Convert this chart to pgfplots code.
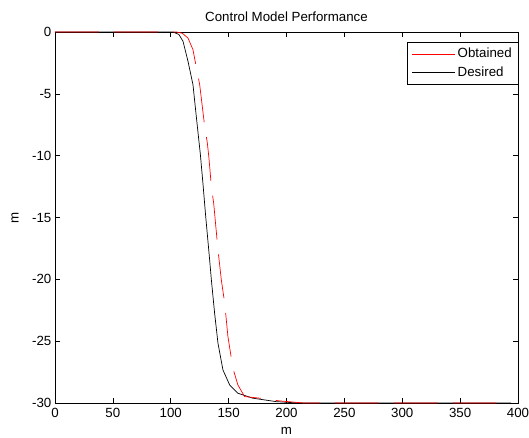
\documentclass[border=0pt]{standalone}
\usepackage{pgfplots}
\pgfplotsset{compat=1.18}
\usepackage{fontspec}
\setmainfont{Liberation Sans}
\begin{document}
\fontsize{13.3bp}{16bp}\selectfont
\begin{tikzpicture}
    % outer frame: 529 x 438, axis box 463 x 371 at (55,35) from lower left
    \useasboundingbox (-55bp,-35bp) rectangle (474bp,403bp);
    \begin{axis}[
        at={(0,0)}, anchor=south west,
        width=463bp, height=371bp, scale only axis,
        xmin=0, xmax=400, ymin=-30, ymax=0,
        xtick={0,50,...,400},
        ytick={-30,-25,...,0},
        yticklabels={-30,-25,-20,-15,-10,-5,0},
        tick align=inside,
        major tick length=5bp,
        axis line style={line width=0.6bp},
        every tick/.style={line width=0.6bp, black},
        /pgf/number format/assume math mode=true,
        tick label style={font=\fontsize{13.3bp}{16bp}\selectfont},
        xticklabel style={yshift=-1bp},
        yticklabel style={xshift=1bp},
        title={Control Model Performance},
        title style={at={(axis description cs:0.5,1)}, anchor=base, yshift=5bp, inner sep=0pt},
        xlabel={m},
        xlabel style={at={(axis description cs:0.5,0)}, anchor=center, yshift=-28bp, inner sep=0pt},
        ylabel={m},
        ylabel style={at={(axis description cs:0,0.5)}, anchor=center, yshift=40bp, inner sep=0pt},
        legend cell align=left,
        legend image code/.code={\draw[#1, solid] (0bp,0bp) -- (43bp,0bp);},
        legend style={at={(axis description cs:1,1)}, anchor=north east,
            xshift=1bp, yshift=-10bp, draw=black, line width=0.6bp,
            font=\fontsize{13.3bp}{16bp}\selectfont,
            inner xsep=5bp, inner ysep=4bp, row sep=3bp},
        every axis plot/.append style={line width=0.7bp},
    ]
        % desired trajectory (black, drawn first)
        \addplot[black, forget plot] coordinates {
            (0,0) (102,0) (107,-0.2) (110.6,-0.75) (114.9,-2.37) (119.2,-4.26)
            (122.2,-6.95) (125.6,-9.92) (127.8,-12.23) (130.2,-14.93)
            (133.6,-18.43) (135.1,-20.05) (137.9,-22.74) (140.8,-25.17)
            (145.1,-27.33) (150.9,-28.54) (158.0,-29.21) (170.9,-29.61)
            (191.1,-29.89) (210,-30) (394,-30)
        };
        % obtained trajectory (red dashed)
        \addplot[red, dash pattern=on 44bp off 15bp] coordinates {
            (0,0) (105,0) (110,-0.1) (114.9,-0.49) (119.2,-1.43) (122.2,-2.91)
            (125.0,-4.26) (129.3,-7.62) (131.6,-8.97) (133.0,-10.19)
            (135.1,-12.51) (137.1,-13.85) (140.8,-17.62) (143.7,-20.05)
            (146.6,-21.93) (149.4,-24.63) (153.7,-27.19) (158.0,-28.54)
            (163.8,-29.48) (176.7,-29.61) (194.0,-29.83) (215,-30) (394,-30)
        };
        \addlegendentry{Obtained\hspace{22bp}}
        \addlegendimage{black}
        \addlegendentry{Desired}
    \end{axis}
\end{tikzpicture}
\end{document}
